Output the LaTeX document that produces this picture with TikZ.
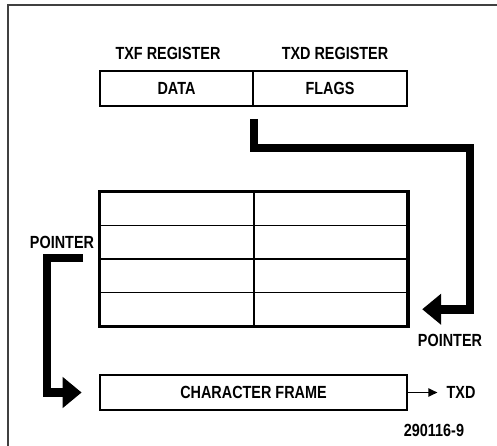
\documentclass[tikz,border=0pt]{standalone}
\usepackage{fontspec}
\usetikzlibrary{arrows.meta}
\newfontfamily\lblfont[FakeStretch=0.82]{Liberation Sans}

\tikzset{
  lbl/.style = {font = \lblfont\bfseries\fontsize{10}{12}\selectfont, inner sep = 1pt},
  regbox/.style = {lbl, draw, line width = 1.6pt, minimum height = 0.7cm, inner sep = 0pt},
  memcell/.style = {draw, line width = 1.1pt, minimum width = 3.07cm, minimum height = 0.67cm, inner sep = 0pt},
  fatarrow/.style = {line width = 5pt, -{Triangle[length = 0.38cm, width = 0.6cm]}},
  thinarrow/.style = {line width = 1.1pt, -{Triangle[length = 0.18cm, width = 0.16cm]}}
}

\begin{document}
\begin{tikzpicture}[x = 0.02cm, y = -0.02cm]
\useasboundingbox (0, 0) rectangle (497, 446);
% outer frame, cut by the page edge
\draw[line width = 1pt, color = black!75] (497, 5) -| (8, 446);

% registers
\node[lbl] (txflbl) at (168, 53) {TXF REGISTER};
\node[lbl] (txdlbl) at (335, 53) {TXD REGISTER};
\node[regbox, minimum width = 3.06cm] (data) at (176.5, 88.5) {DATA};
\node[regbox, minimum width = 3.08cm] (flags) at (330, 88.5) {FLAGS};

% buffer table
\foreach \r in {0, ..., 3} {
  \node[memcell] (m\r a) at (177, 208.75 + 33.5*\r) {};
  \node[memcell] (m\r b) at (330.5, 208.75 + 33.5*\r) {};
}
\draw[line width = 1.6pt] (m0a.north west) rectangle (m3b.south east);

% character frame
\node[regbox, minimum width = 6.14cm] (frame) at (253.5, 392.5) {CHARACTER FRAME};
\node[lbl] (txdout) at (461, 392.5) {TXD};
\draw[thinarrow] (frame.east) -- ([xshift = -0.14cm]txdout.west);

% pointers
\node[lbl] (pright) at (450, 340) {POINTER};
\node[lbl] (pleft) at (62, 242) {POINTER};
\coordinate (rstart) at (254, 119);
\coordinate (lstart) at (83, 258);
\draw[fatarrow] (rstart) |- (470, 148) |- ([xshift = 0.28cm]m3b.east);
\draw[fatarrow] (lstart) -| (47, 392.5) -- ([xshift = -0.34cm]frame.west);

\node[lbl] (fignum) at (434, 430) {290116-9};
\end{tikzpicture}
\end{document}
